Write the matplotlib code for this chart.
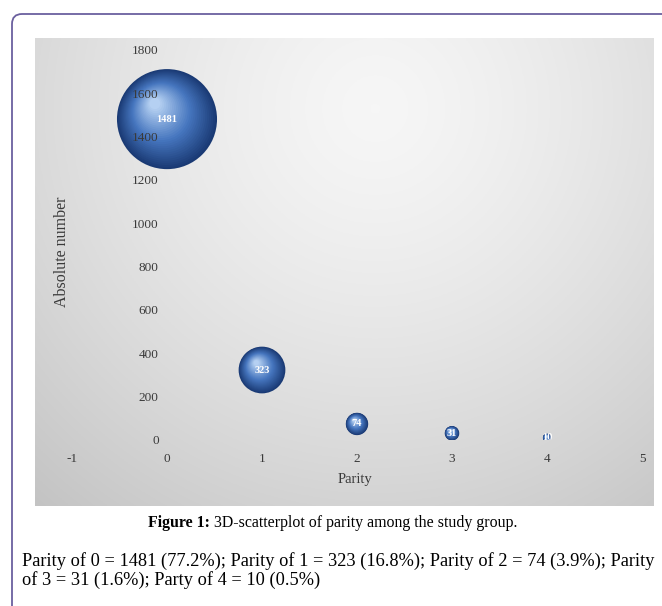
import numpy as np
import matplotlib
matplotlib.use("Agg")
import matplotlib.pyplot as plt
from matplotlib import transforms as mtransforms
from matplotlib.colors import to_rgb
from matplotlib.patches import FancyBboxPatch

# data
parity = [0, 1, 2, 3, 4]
counts = [1481, 323, 74, 31, 10]
x_ticks = [-1, 0, 1, 2, 3, 4, 5]
y_ticks = [0, 200, 400, 600, 800, 1000, 1200, 1400, 1600, 1800]

plt.rcParams["font.family"] = ["Liberation Serif", "DejaVu Serif"]
plt.rcParams["axes.unicode_minus"] = False

W, H = 662, 606
fig = plt.figure(figsize=(W / 100, H / 100), dpi=100)

# outer rounded frame (runs off the right and bottom edges)
frame = FancyBboxPatch((12, -40), W + 40, H - 14 + 40,
                       boxstyle="round,pad=0,rounding_size=10",
                       transform=mtransforms.IdentityTransform(),
                       facecolor="none", edgecolor="#6b609f", linewidth=1.3)
fig.patches.append(frame)

# gray gradient panel behind the chart
px0, px1, py0, py1 = 35, 654, 38, 506
bg = fig.add_axes([px0 / W, 1 - py1 / H, (px1 - px0) / W, (py1 - py0) / H])
gx, gy = np.meshgrid(np.linspace(0, 1, 300), np.linspace(0, 1, 300))
dist = np.sqrt(((gx - 0.55) / 0.75) ** 2 + ((gy - 0.15) / 1.0) ** 2)
shade = np.clip(0.965 - 0.17 * dist ** 1.4, 0.76, 0.97)
bg.imshow(np.dstack([shade] * 3), extent=(0, 1, 0, 1), origin="upper", aspect="auto")
bg.axis("off")

# main chart axes: x from -1..5 at px 72..642, y 0..1800 at px 440..50
ax = fig.add_axes([72 / W, 1 - 440 / H, 570 / W, 390 / H])
ax.patch.set_alpha(0)
ax.set_xlim(-1, 5)
ax.set_ylim(0, 1800)
for s in ax.spines.values():
    s.set_visible(False)
ax.spines["left"].set_position(("data", 0))
ax.set_xticks(x_ticks)
ax.set_yticks(y_ticks)
ax.tick_params(length=0, labelsize=9.5, colors="#3a3a3a")
ax.tick_params(axis="x", pad=9)
ax.tick_params(axis="y", pad=6)

# shaded 3D-looking bubbles, area proportional to the count
# (kept below the axis so the tick labels show over the big bubble)
dark = np.array(to_rgb("#1a3a74"))
mid = np.array(to_rgb("#4676bf"))
light = np.array(to_rgb("#bcd6f5"))
n_layers = 30
for xv, yv in zip(parity, counts):
    r_pt = 1.3 * np.sqrt(yv) * 0.72  # radius in points
    for i in range(n_layers):
        t = i / n_layers
        if t < 0.45:
            col = dark + (mid - dark) * (t / 0.45)
        else:
            col = mid + (light - mid) * ((t - 0.45) / 0.55)
        rr = r_pt * (1 - 0.92 * t)
        off = mtransforms.offset_copy(ax.transData, fig=fig,
                                      x=-0.25 * r_pt * t, y=0.32 * r_pt * t, units="points")
        ax.scatter([xv], [yv], s=(2 * rr) ** 2, color=col, edgecolors="none",
                   transform=off, zorder=1 + i * 0.01)
    ax.text(xv, yv, str(yv), color="white", fontsize=7.5, fontweight="bold",
            ha="center", va="center", zorder=5)

fig.text(62 / W, 1 - 252 / H, "Absolute number", rotation=90, fontsize=11.5,
         color="#3a3a3a", ha="center", va="center")
fig.text(355 / W, 1 - 480 / H, "Parity", fontsize=10.5, color="#3a3a3a",
         ha="center", va="center")

# caption below the chart
cap = fig.text(148 / W, 1 - 523 / H, "Figure 1:", fontsize=11.4, fontweight="bold",
               ha="left", va="center", color="black")
plt.annotate(" 3D-scatterplot of parity among the study group.", xy=(1, 0),
             xycoords=cap, fontsize=11.4, ha="left", va="bottom", color="black")

fig.text(22 / W, 1 - 561 / H,
         "Parity of 0 = 1481 (77.2%); Parity of 1 = 323 (16.8%); Parity of 2 = 74 (3.9%); Parity",
         fontsize=13.2, ha="left", va="center", color="black")
fig.text(22 / W, 1 - 580 / H, "of 3 = 31 (1.6%); Party of 4 = 10 (0.5%)",
         fontsize=13.2, ha="left", va="center", color="black")

fig.savefig("out.png", dpi=100)
